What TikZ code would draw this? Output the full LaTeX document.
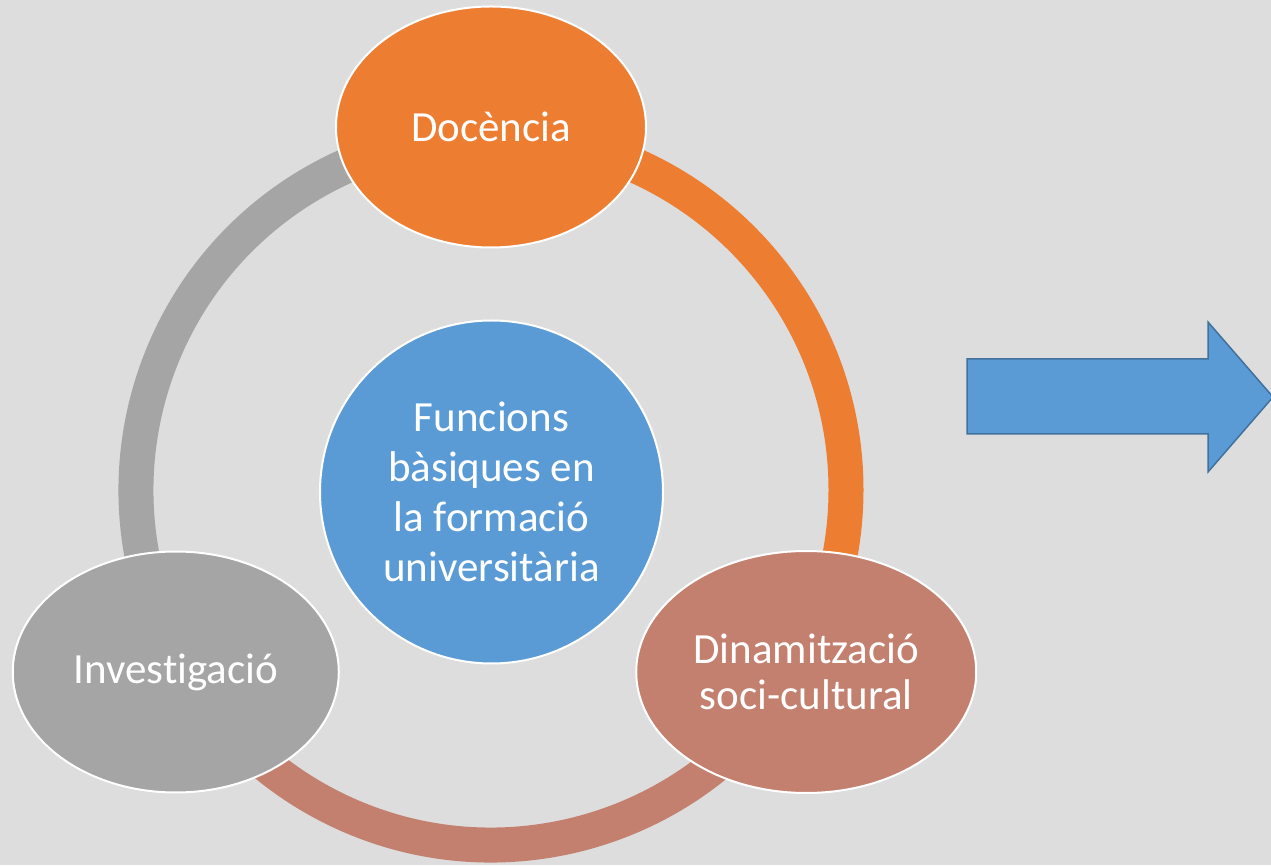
\documentclass[tikz,border=0pt]{standalone}
\usepackage{fontspec}
\setmainfont{Carlito}[Ligatures=NoCommon]
\usetikzlibrary{shapes.geometric,calc}

\definecolor{bgGray}{RGB}{221,221,221}
\definecolor{accOrange}{HTML}{ED7D31}
\definecolor{accGray}{HTML}{A5A5A5}
\definecolor{accBrown}{HTML}{C4806F}
\definecolor{accBlue}{HTML}{5B9BD5}
\definecolor{accBlueDark}{HTML}{41719C}

\begin{document}
\begin{tikzpicture}[x=1pt,y=1pt,
					ring/.style={line width=35pt},
					func node/.style={ellipse,draw=white,line width=2pt,inner sep=0pt,
					                  text=white,align=center,
					                  font=\fontsize{43}{46}\selectfont},
					main node/.style={circle,draw=white,line width=2pt,inner sep=0pt,
					                  minimum size=343pt,fill=accBlue,text=white,align=center,
					                  font=\fontsize{43}{50}\selectfont}]

  % background and frame
  \fill[bgGray] (0,0) rectangle (1271,865);
  \useasboundingbox (0,0) rectangle (1271,865);

  \coordinate (C) at (491,375);

  % ring
  \draw[ring,accOrange] (C) ++(90:355) arc[start angle=90,end angle=-30,radius=355];
  \draw[ring,accBrown] (C) ++(-30:355) arc[start angle=-30,end angle=-150,radius=355];
  \draw[ring,accGray] (C) ++(-150:355) arc[start angle=-150,end angle=-270,radius=355];

  \node[main node] (F) at (491.5,373) {Funcions\\bàsiques en\\la formació\\universitària};

  \node[func node,fill=accOrange,minimum width=310pt,minimum height=241pt] (D)
    at ($(C)+(90:363)$) {Docència};
  \node[func node,fill=accGray,minimum width=326pt,minimum height=241pt] (I)
    at ($(C)+(210:364)$) {Investigació};
  \node[func node,fill=accBrown,minimum width=340pt,minimum height=242pt] (S)
    at ($(C)+(-30:364)$) {Dinamització\\soci-cultural};

  % block arrow
  \draw[fill=accBlue,draw=accBlueDark,line width=1.5pt]
    (967,431) -- (967,506) -- (1208,506) -- (1208,543) -- (1273,468)
    -- (1208,393) -- (1208,431) -- cycle;
\end{tikzpicture}
\end{document}
